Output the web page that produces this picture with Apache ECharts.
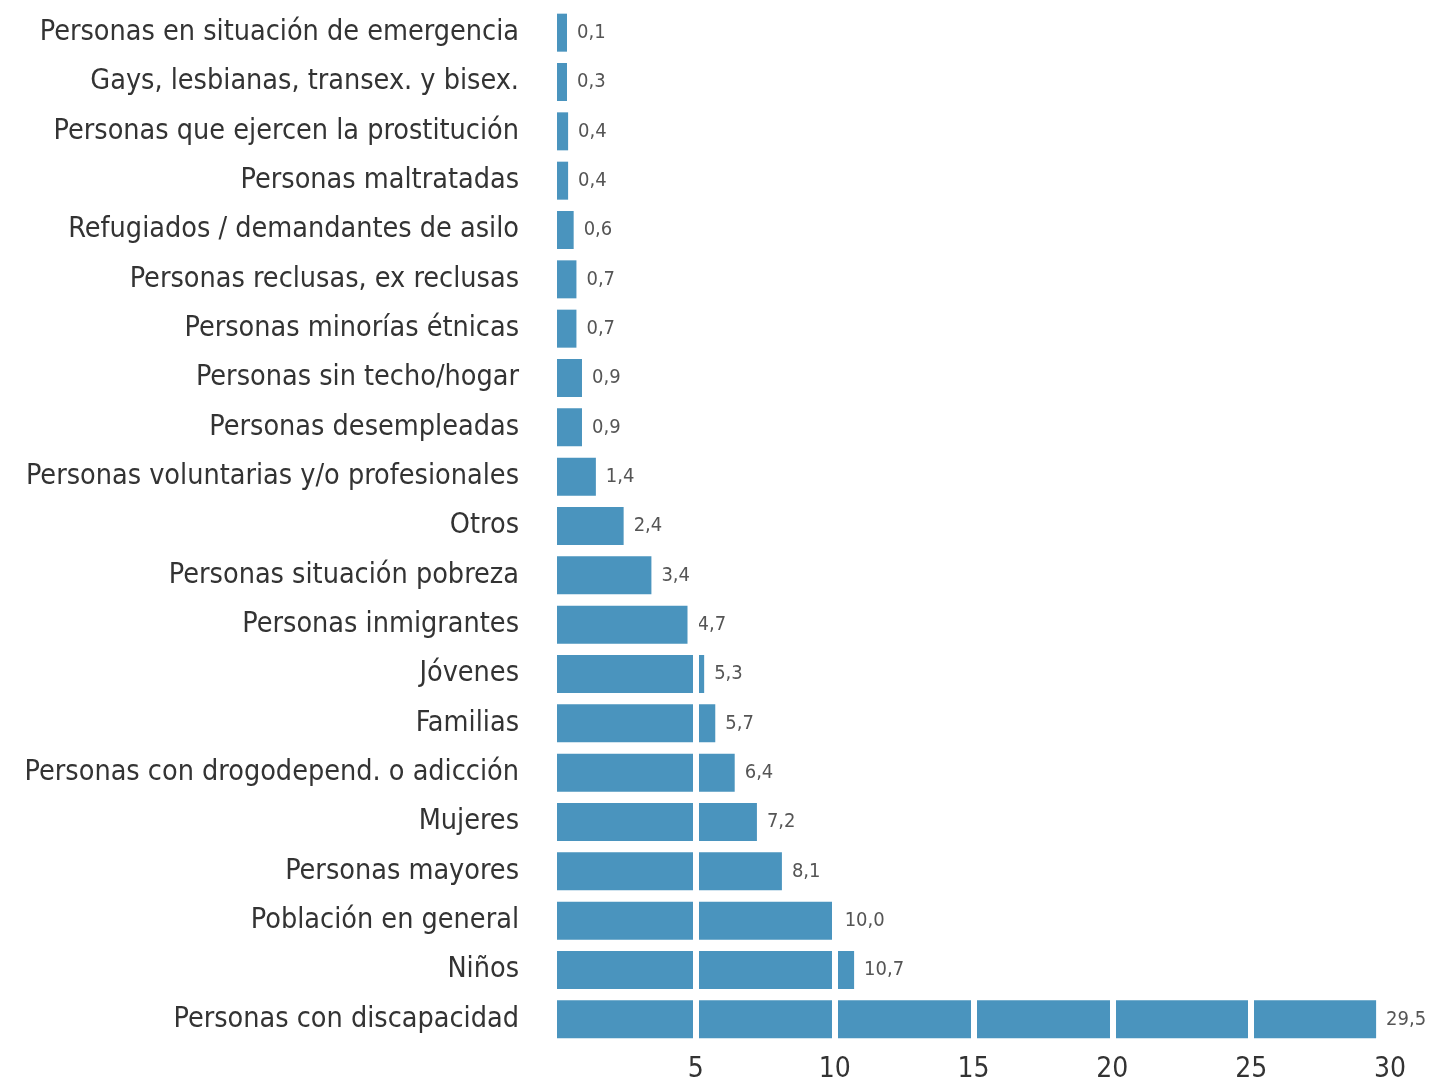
<!DOCTYPE html>
<html><head><meta charset="utf-8">
<script src="https://cdn.jsdelivr.net/npm/echarts@6/dist/echarts.min.js"></script>
<style>html,body{margin:0;padding:0;background:#fff}#c{width:1445px;height:1084px}</style>
</head><body><div id="c"></div>
<script>
const categories = [
  "Personas en situación de emergencia",
  "Gays, lesbianas, transex. y bisex.",
  "Personas que ejercen la prostitución",
  "Personas maltratadas",
  "Refugiados / demandantes de asilo",
  "Personas reclusas, ex reclusas",
  "Personas minorías étnicas",
  "Personas sin techo/hogar",
  "Personas desempleadas",
  "Personas voluntarias y/o profesionales",
  "Otros",
  "Personas situación pobreza",
  "Personas inmigrantes",
  "Jóvenes",
  "Familias",
  "Personas con drogodepend. o adicción",
  "Mujeres",
  "Personas mayores",
  "Población en general",
  "Niños",
  "Personas con discapacidad"
];
const values = [0.1,0.3,0.4,0.4,0.6,0.7,0.7,0.9,0.9,1.4,2.4,3.4,4.7,5.3,5.7,6.4,7.2,8.1,10.0,10.7,29.5];
const gridTicks = [5,10,15,20,25];
const FONT = '"DejaVu Sans Condensed","Liberation Sans Narrow",sans-serif';
const chart = echarts.init(document.getElementById('c'));
chart.setOption({
  animation:false,
  grid:{left:557,right:55,top:8,bottom:37,containLabel:false},
  xAxis:{type:'value',min:0,max:30,interval:5,
    axisLine:{show:false},axisTick:{show:false},splitLine:{show:false},
    axisLabel:{fontFamily:FONT,fontSize:28,color:'#333',margin:12,
      formatter:v=>v===0?'':String(v)}},
  yAxis:{type:'category',data:categories,inverse:true,
    axisLine:{show:false},axisTick:{show:false},
    axisLabel:{fontFamily:FONT,fontSize:28.5,color:'#333',margin:38}},
  series:[{type:'bar',data:values,barWidth:38,barMinHeight:10,
    itemStyle:{color:'#4a94be'},
    label:{show:true,position:'right',distance:10,fontFamily:FONT,fontSize:20,color:'#555',
      formatter:p=>p.value.toFixed(1).replace('.',',')},
    markLine:{silent:true,symbol:'none',label:{show:false},
      lineStyle:{color:'#fff',width:6,type:'solid'},
      data:gridTicks.map(t=>({xAxis:t}))}
  }]
});
</script></body></html>
